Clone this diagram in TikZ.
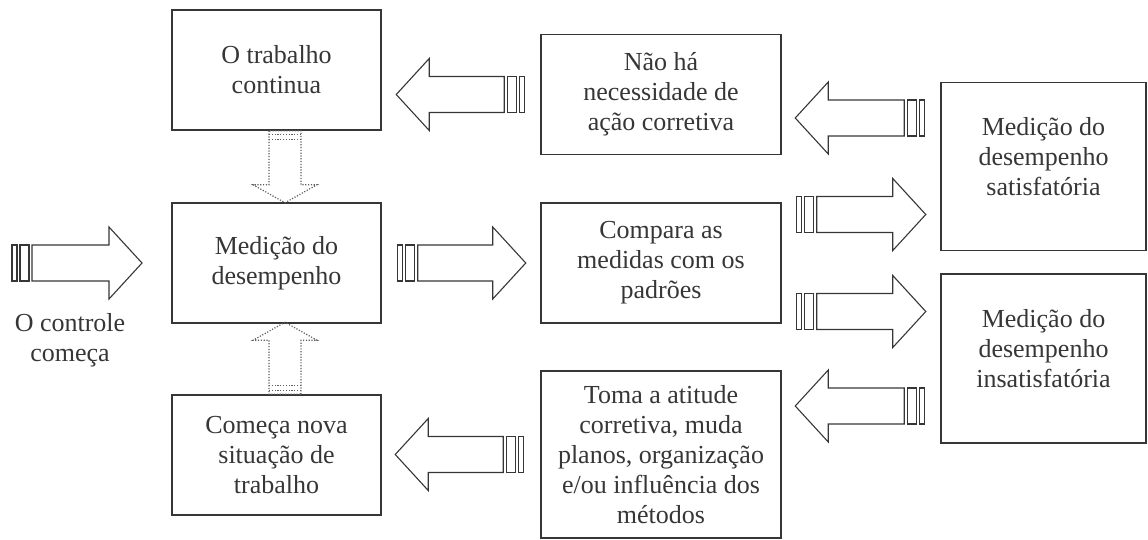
\documentclass[tikz,border=0pt]{standalone}
\usepackage{fontspec}
\setmainfont{Liberation Serif}
\usepackage{tikz}
\usetikzlibrary{positioning,calc}
\definecolor{ink}{HTML}{363636}

\tikzset{
  pics/blockarrow/.style={code={
    \draw[arrowline] (0,-18) rectangle (5,18);
    \draw[arrowline] (8,-18) rectangle (17,18);
    \draw[arrowline] (20,-18) -- (#1-33,-18) -- (#1-33,-36) -- (#1,0) -- (#1-33,36) -- (#1-33,18) -- (20,18) -- cycle;
  }},
  pics/dotarrow/.style={code={
    \draw[dotline] (0,-16) -- (54,-16) -- (54,-32) -- (72,0) -- (54,32) -- (54,16) -- (0,16) -- cycle;
    \draw[dotline] (4,-16) -- (4,16);
    \draw[dotline] (9,-16) -- (9,16);
  }}
}

\begin{document}
\begin{tikzpicture}[x=1pt,y=1pt,
  every node/.style={font=\fontsize{26}{30}\selectfont, text=ink},
  box/.style={draw=ink, line width=1.5pt, align=center, inner sep=0pt},
  leftbox/.style={box, minimum width=209pt, minimum height=120pt},
  midbox/.style={box, minimum width=240pt, minimum height=120pt},
  rightbox/.style={box, minimum width=205pt, minimum height=168pt},
  arrowline/.style={draw=ink, line width=1.1pt, line join=miter},
  dotline/.style={draw=ink!80, line width=1.2pt, dash pattern=on 1.2pt off 1.6pt}]
\useasboundingbox (0,0) rectangle (1148,-539);

% left column
\node[leftbox] (work) at (276.5,-70) {O trabalho\\continua};
\node[leftbox] (measure) at (276.5,-263) {Medição do\\desempenho};
\node[leftbox] (newsit) at (276.5,-455) {Começa nova\\situação de\\trabalho};
\node[align=center] (begin) at (70,-340) {O controle\\começa};
\coordinate (c0) at (12,-263);

% middle column
\node[midbox] (noaction) at (661,-94.5) {Não há\\necessidade de\\ação corretiva};
\node[midbox] (compare) at (661,-263) {Compara as\\medidas com os\\padrões};
\node[midbox, minimum height=167pt] (correct) at (661,-454.5) {Toma a atitude\\corretiva, muda\\planos, organização\\e/ou influência dos\\métodos};

% right column
\node[rightbox] (satis) at (1043.5,-166.5) {};
\node[rightbox, minimum height=169pt] (unsatis) at (1043.5,-358.5) {};
\node[align=center] (satistext) at ([yshift=10]satis.center) {Medição do\\desempenho\\satisfatória};
\node[align=center] (unsatistext) at ([yshift=10]unsatis.center) {Medição do\\desempenho\\insatisfatória};

% block arrows
\pic at (c0) {blockarrow=130};
\pic at ([xshift=16]measure.east) {blockarrow=128};
\pic at ([xshift=15,yshift=48.5]compare.east) {blockarrow=129};
\pic at ([xshift=15,yshift=-48.5]compare.east) {blockarrow=129};
\pic[rotate=180] at ([xshift=-16,yshift=48.5]satis.west) {blockarrow=129};
\pic[rotate=180] at ([xshift=-16,yshift=-47.5]unsatis.west) {blockarrow=129};
\pic[rotate=180] at ([xshift=-16]noaction.west) {blockarrow=128};
\pic[rotate=180] at ([xshift=-17]correct.west) {blockarrow=128};

% dotted arrows
\pic[rotate=-90] at ([xshift=8.5]work.south) {dotarrow};
\pic[rotate=90] at ([xshift=8.5]newsit.north) {dotarrow};
\end{tikzpicture}
\end{document}
